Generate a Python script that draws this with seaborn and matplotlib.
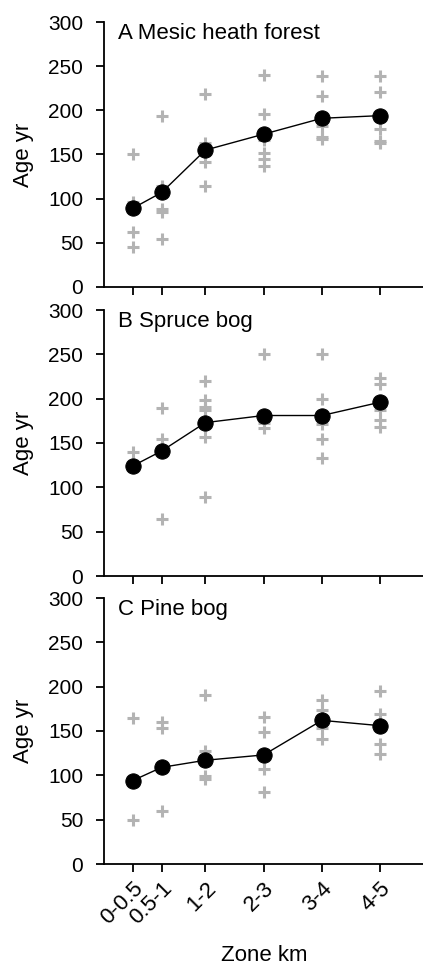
import matplotlib
matplotlib.use("Agg")
import matplotlib.pyplot as plt
import seaborn as sns
import pandas as pd
import numpy as np

sns.set_style("ticks")
plt.rcParams['font.family'] = ['Liberation Sans', 'DejaVu Sans']
plt.rcParams['text.color'] = 'black'
plt.rcParams['axes.labelcolor'] = 'black'
plt.rcParams['xtick.color'] = 'black'
plt.rcParams['ytick.color'] = 'black'

zones = ["0-0.5", "0.5-1", "1-2", "2-3", "3-4", "4-5"]
zone_pos = [0.25, 0.75, 1.5, 2.5, 3.5, 4.5]
panel_titles = ["A Mesic heath forest", "B Spruce bog", "C Pine bog"]

# mean ages per zone
mean_A = [89, 107, 155, 173, 191, 194]
mean_B = [124, 141, 173, 181, 181, 196]
mean_C = [94, 109, 117, 123, 162, 156]

# individual stand ages per zone
pts_A = [
    [151, 96, 62, 45],
    [194, 114, 88, 85, 54],
    [219, 163, 141, 114],
    [240, 196, 166, 152, 145, 137],
    [239, 216, 182, 170, 167],
    [239, 221, 179, 165, 163],
]
pts_B = [
    [140],
    [190, 155, 64],
    [220, 199, 191, 187, 157, 89],
    [250, 173, 167],
    [250, 200, 171, 155, 133],
    [223, 217, 187, 176, 168],
]
pts_C = [
    [165, 50],
    [160, 153, 60],
    [191, 127, 99, 96],
    [166, 149, 107, 81],
    [185, 174, 153, 141],
    [195, 169, 135, 124],
]

means = [mean_A, mean_B, mean_C]
points = [pts_A, pts_B, pts_C]

W, H = 423, 969
fig = plt.figure(figsize=(W / 100, H / 100), dpi=100)
left = 104 / W
width = 1.0 - left + 0.002
tops = [22, 310, 598]
bots = [287, 576, 864]

for i in range(3):
    b = 1 - bots[i] / H
    h = (bots[i] - tops[i]) / H
    ax = fig.add_axes([left, b, width, h])
    rows = []
    for p, vals in zip(zone_pos, points[i]):
        for v in vals:
            rows.append({"x": p, "age": v})
    dfp = pd.DataFrame(rows)
    dfm = pd.DataFrame({"x": zone_pos, "age": means[i]})
    sns.scatterplot(data=dfp, x="x", y="age", marker="+", s=65, color="#b3b3b3",
                    linewidth=2.2, ax=ax, zorder=2)
    sns.lineplot(data=dfm, x="x", y="age", color="black", linewidth=1.0,
                 marker="o", markersize=11, markeredgecolor="black",
                 markerfacecolor="black", ax=ax, zorder=3)
    ax.set_xlim(-0.24, 5.25)
    ax.set_ylim(0, 300)
    ax.set_yticks([0, 50, 100, 150, 200, 250, 300])
    ax.set_xticks(zone_pos)
    ax.tick_params(axis="both", direction="out", length=6, width=1.3,
                   labelsize=15, color="black", labelcolor="black", pad=3)
    ax.tick_params(axis="y", pad=9)
    ax.tick_params(axis="x", labelsize=16, pad=4)
    for s in ["top", "right"]:
        ax.spines[s].set_visible(False)
    for s in ["left", "bottom"]:
        ax.spines[s].set_linewidth(1.3)
        ax.spines[s].set_color("black")
    ax.set_ylabel("Age yr", fontsize=16, labelpad=10)
    ax.text(0.045, 0.998, panel_titles[i], transform=ax.transAxes,
            fontsize=16, va="top", ha="left")
    if i < 2:
        ax.set_xticklabels([])
        ax.set_xlabel("")
    else:
        ax.set_xticklabels(zones, rotation=45, ha="right",
                           rotation_mode="anchor")
        ax.set_xlabel("Zone km", fontsize=16, labelpad=12)

fig.savefig("out.png", dpi=100)
